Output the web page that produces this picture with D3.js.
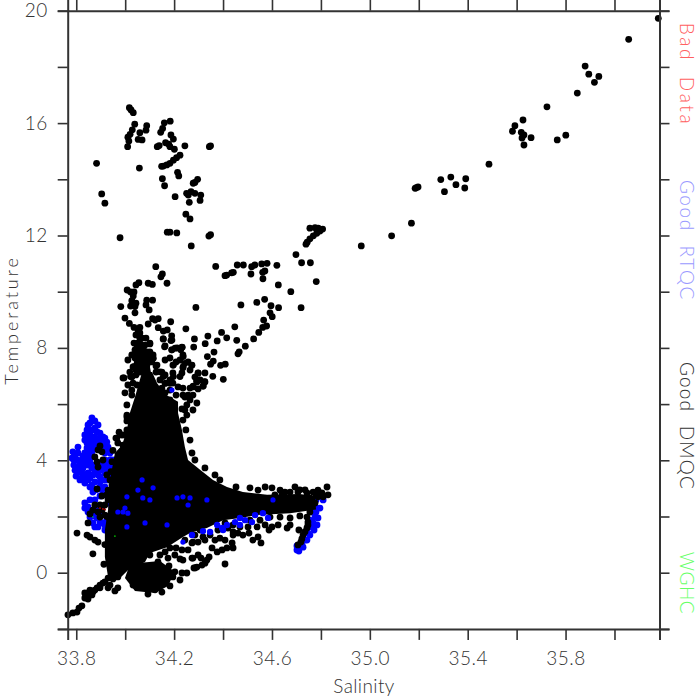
<!DOCTYPE html>
<html><head><meta charset="utf-8">
<script src="https://cdn.jsdelivr.net/npm/d3@7"></script>
<style>html,body{margin:0;background:#fff}svg{display:block}text{font-family:"Lato","Open Sans",sans-serif;font-weight:300}</style>
</head><body><svg id="c" width="700" height="700"></svg>
<script>
const xTicks=[33.8,34.0,34.2,34.4,34.6,34.8,35.0,35.2,35.4,35.6,35.8,36.0];
const xLabels=[33.8,34.2,34.6,35.0,35.4,35.8];
const yTicks=[-2,0,2,4,6,8,10,12,14,16,18,20];
const yLabels=[0,4,8,12,16,20];
const legendNames=["Bad Data","Good RTQC","Good DMQC","WGHC"];
const legendColors=["#ff6060","#9a9aff","#333333","#66ff66"];
const badData=[[33.897,2.30],[33.909,2.27],[33.918,2.25]];
const wghc=[[33.868,1.98],[33.958,1.30]];
// solid regions where Good DMQC points overlap completely (outlines)
const denseCore=[[34.069,7.14],[34.110,7.14],[34.130,6.75],[34.163,6.35],[34.216,6.08],[34.216,5.68],[34.232,5.08],[34.244,4.47],[34.257,4.01],[34.306,3.66],[34.359,3.30],[34.416,3.05],[34.481,2.87],[34.580,2.77],[34.714,2.80],[34.776,2.72],[34.780,2.25],[34.674,2.12],[34.539,2.05],[34.469,1.95],[34.400,1.87],[34.334,1.59],[34.265,1.41],[34.236,1.27],[34.171,0.91],[34.101,0.70],[34.081,0.38],[34.011,0.09],[33.979,-0.19],[33.930,-0.15],[33.917,0.56],[33.917,1.52],[33.930,2.23],[33.938,3.30],[33.958,4.26],[33.987,4.54],[34.007,5.08],[34.019,5.68],[34.040,6.25]];
const denseNeck=[[34.060,8.35],[34.085,8.10],[34.105,7.14],[34.030,7.14],[34.040,7.75]];
const denseLobe=[[34.020,0.32],[34.142,0.42],[34.203,0.03],[34.175,-0.47],[34.122,-0.72],[34.040,-0.65],[33.999,-0.19]];
const goodRtqcBack=[[33.864,5.51],[33.848,5.26],[33.844,5.08],[33.889,5.26],[33.897,4.97],[33.848,4.83],[33.864,5.08],[33.876,4.83],[33.909,4.83],[33.925,4.65],[33.930,4.47],[33.938,4.26],[33.946,4.01],[33.844,4.62],[33.864,4.62],[33.885,4.62],[33.844,4.44],[33.868,4.37],[33.848,4.26],[33.864,4.12],[33.786,4.30],[33.807,4.47],[33.807,4.26],[33.803,4.01],[33.823,4.01],[33.790,3.83],[33.807,3.72],[33.799,3.44],[33.823,3.55],[33.835,3.83],[33.848,3.83],[33.864,3.72],[33.835,3.41],[33.848,3.30],[33.856,3.05],[33.868,2.87],[33.876,3.23],[33.815,3.30],[33.827,3.72],[33.848,3.55],[33.868,3.48],[33.885,3.72],[33.905,3.83],[33.925,3.83],[33.946,3.76],[33.909,3.30],[33.897,3.05],[33.917,3.05],[33.930,3.30],[33.835,2.48],[33.848,2.34],[33.930,2.48],[33.946,2.30],[33.856,2.59],[33.876,2.59],[33.868,1.77],[33.889,1.63],[33.917,1.52],[33.885,1.95],[33.856,1.98],[33.897,4.62],[33.897,4.37],[33.905,4.62],[33.917,4.26],[33.917,4.47],[33.897,3.65],[33.917,3.55],[33.889,3.48],[33.917,4.01],[33.880,2.95],[33.897,2.73],[33.897,2.16],[33.925,1.87],[33.946,1.70],[33.909,1.77],
[33.876,5.40],[33.856,5.33],[33.876,5.15],[33.835,4.90],[33.856,4.97],[33.885,5.01],[33.864,4.83],[33.897,4.79],[33.835,4.72],[33.856,4.72],[33.876,4.72],[33.917,4.79],[33.856,4.47],[33.880,4.47],[33.835,4.26],[33.864,4.30],[33.917,4.62],[33.930,4.30],[33.938,4.01],[33.848,4.08],[33.827,4.15],[33.815,3.87],[33.835,4.01],[33.856,3.94],[33.876,3.83],[33.795,4.19],[33.782,4.08],[33.790,4.01],[33.807,3.58],[33.795,3.65],[33.823,3.37],[33.835,3.19],[33.856,3.37],[33.876,3.58],[33.897,3.41],[33.917,3.65],[33.864,3.12],[33.876,2.95],[33.897,3.23],[33.921,3.30],[33.938,3.65],[33.946,3.51],[33.905,2.95],[33.917,2.77],[33.938,2.59],[33.835,2.30],[33.856,2.23],[33.880,2.23],[33.848,2.16],[33.868,2.02],[33.897,1.80],[33.876,1.63],[33.917,1.70],[33.958,4.01],
[34.809,2.59],[34.796,2.30],[34.776,2.34],[34.764,2.16],[34.768,1.77],[34.764,1.63],[34.747,1.41],[34.735,1.16],[34.722,0.99],[34.702,0.81],[34.776,1.98],[34.755,1.87],[34.780,2.16],[34.788,1.95],[34.784,1.70],[34.772,1.52],[34.755,1.34],[34.743,1.16],[34.727,0.91],[34.710,0.77],[34.702,0.95],[34.764,2.41],[34.780,2.59]];
const goodRtqcArm=[[34.318,1.48],[34.347,1.45],[34.376,1.70],[34.396,1.59],[34.416,1.70],[34.449,1.80],[34.469,1.95],[34.490,1.87],[34.518,1.80],[34.531,2.05],[34.563,2.12],[34.584,1.95],[34.469,1.70],[34.273,1.34],[34.400,1.52]];
const goodRtqcFront=[[34.334,2.59],[34.604,2.59],[34.265,2.66],[33.991,2.16],[33.970,2.16],[33.999,2.30],[34.011,2.12],[34.007,1.63],[34.052,2.94],[34.072,2.66],[34.101,2.59],[34.114,3.02],[34.171,1.70],[34.212,2.66],[34.236,2.70],[34.191,6.50],[34.007,2.70],[34.257,2.41],[34.069,3.30],[34.236,1.09],[34.081,1.77]];
const warmBranch=[[36.179,19.73],[36.058,18.98],[35.880,18.03],[35.895,17.74],[35.936,17.66],[35.918,17.45],[35.848,17.07],[35.724,16.58],[35.626,16.11],[35.593,15.91],[35.583,15.71],[35.619,15.67],[35.630,15.58],[35.622,15.47],[35.659,15.48],[35.630,15.22],[35.766,15.40],[35.801,15.57],[35.487,14.54],[35.290,13.99],[35.331,14.08],[35.392,14.02],[35.352,13.81],[35.388,13.69],[35.305,13.56],[35.185,13.68],[35.190,13.70],[35.197,13.73],[35.170,12.44],[35.089,11.99],[34.965,11.63]];
const upperCluster=[[34.017,16.55],[34.024,16.47],[34.033,16.37],[34.039,15.96],[34.029,15.76],[34.020,15.60],[34.011,15.50],[34.015,15.36],[34.010,15.16],[34.088,15.91],[34.085,15.75],[34.060,15.66],[34.053,15.42],[34.069,15.40],[34.160,16.01],[34.184,16.07],[34.153,15.81],[34.145,15.67],[34.187,15.58],[34.197,15.43],[34.165,15.30],[34.183,15.16],[34.178,15.25],[34.131,15.16],[34.139,15.20],[34.244,15.19],[34.201,15.07],[34.344,15.16],[34.349,15.19],[34.224,14.86],[34.210,14.77],[34.197,14.68],[34.183,14.57],[34.170,14.51],[34.156,14.47],[34.149,14.46],[34.058,14.40],[34.214,14.25],[34.219,14.12],[34.152,14.02],[34.161,13.77],[34.296,14.00],[34.285,13.89],[34.278,13.86],[34.204,13.38],[34.251,13.50],[34.269,13.56],[34.258,13.44],[34.285,13.50],[34.309,13.44],[34.306,13.25],[34.262,13.18],[34.248,12.76],[34.265,12.59],[34.172,12.12],[34.183,12.12],[34.211,12.09],[34.342,11.98],[34.349,12.03],[33.979,11.92],[33.883,14.57],[33.904,13.48],[33.917,13.15],[34.270,11.63]];
const midBranch=[[34.755,12.26],[34.776,12.28],[34.789,12.26],[34.807,12.23],[34.796,12.16],[34.783,12.08],[34.769,11.99],[34.755,11.88],[34.744,11.76],[34.739,11.69],[34.698,11.32],[34.721,11.03],[34.757,11.03],[34.781,10.36],[34.677,10.00],[34.626,10.24],[34.719,9.43],[34.620,10.94],[34.580,11.01],[34.558,10.99],[34.571,10.74],[34.562,10.69],[34.563,10.46],[34.530,10.95],[34.517,10.89],[34.514,10.63],[34.483,10.95],[34.458,10.95],[34.442,10.69],[34.435,10.67],[34.415,10.59],[34.408,10.57],[34.370,10.90],[34.473,9.53],[34.538,9.62],[34.570,9.73],[34.596,9.50],[34.627,9.43],[34.592,9.25],[34.601,9.11],[34.566,8.99],[34.578,8.78],[34.562,8.73],[34.546,8.55],[34.525,8.32],[34.491,8.06],[34.466,7.86],[34.461,7.79],[34.448,8.75],[34.456,8.27],[34.394,8.55],[34.415,8.36],[34.338,8.42],[34.327,8.15],[34.376,8.25],[34.363,7.85],[34.336,7.69],[34.360,7.53],[34.349,7.42],[34.390,7.38],[34.409,7.42],[34.358,6.99],[34.401,6.88],[34.325,6.80]];
const columnTop=[[34.125,10.89],[34.152,10.63],[34.146,10.53],[34.094,10.30],[34.111,10.26],[34.171,10.30],[34.056,10.32],[34.044,10.24],[34.008,10.06],[34.022,9.99],[34.036,9.99],[34.033,9.85],[34.027,9.68],[34.044,9.59],[34.022,9.49],[34.040,9.47],[33.982,9.47],[34.040,9.25],[34.088,9.70],[34.112,9.70],[34.085,9.53],[34.098,9.35],[34.289,9.44],[33.999,9.06],[34.017,8.87],[34.036,8.73],[34.053,8.61],[34.060,8.73],[34.112,9.04],[34.135,9.04],[34.122,8.99],[34.094,8.85],[34.186,8.93],[34.135,8.72],[34.156,8.60],[34.172,8.64],[34.248,8.68],[34.190,8.43],[34.187,8.26],[34.156,8.32],[34.283,8.32],[34.280,8.03],[34.161,8.04],[34.060,8.34],[34.053,8.16],[34.049,8.02],[34.101,8.14],[34.204,7.99],[34.190,7.93],[34.227,7.93],[34.233,8.02],[34.074,7.86],[34.101,7.69],[34.115,7.63],[34.033,7.75],[34.044,7.63],[34.036,7.33],[34.053,7.47],[34.237,7.69],[34.197,7.39],[34.272,7.38],[34.244,7.45],[34.298,7.10],[34.126,7.36],[34.142,7.15],[34.156,6.98],[33.995,6.93],[34.022,6.98],[34.319,6.64],[34.292,6.83],[34.278,6.64],[34.237,7.33],[34.224,6.98],[34.197,6.98],[34.183,6.74],[34.163,6.74]];
const columnBase=[[34.032,7.32],[34.081,7.57],[34.109,7.50],[34.130,7.39],[34.089,7.39],[34.060,7.14],[34.027,6.96],[33.991,6.93],[34.032,6.75],[34.150,7.14],[34.163,7.04],[34.183,6.86],[34.195,7.11],[34.232,7.11],[34.236,7.29],[34.265,7.21],[34.273,7.39],[34.298,7.11],[34.293,6.79],[34.326,6.79],[34.318,6.64],[34.277,6.61],[34.298,6.54],[34.265,6.57],[34.277,6.32],[34.293,6.04],[34.277,5.79],[34.252,5.61],[34.244,6.25],[34.252,5.97],[34.232,5.83],[34.150,6.57],[34.163,6.40],[34.195,6.75],[34.216,6.61],[34.236,6.57],[34.183,6.15],[34.027,6.32],[34.007,5.97],[34.007,5.61],[34.007,5.40],[33.966,4.79],[33.999,4.90],[33.991,4.54],[34.072,7.93],[34.101,8.17],[34.101,7.86],[34.114,7.75],[34.040,7.93],[34.027,7.75],[34.040,7.64],[34.052,8.17],[34.069,8.35],[34.163,8.07],[34.191,7.93],[34.212,8.00],[34.232,8.03],[34.236,7.75],[34.224,7.57],[34.195,7.39],[34.155,8.32],[34.191,8.28],
[34.044,8.46],[34.036,8.17],[34.060,8.53],[34.085,8.35],[34.081,8.10],[34.060,8.00],[34.044,7.75],[34.089,7.86],[34.069,7.57],[34.048,7.39],[34.101,7.57],[34.011,7.57],[34.019,7.14],[34.044,7.04],[34.011,6.68],[33.999,6.40],[34.048,6.68],[34.027,6.50],[34.126,7.14],[34.142,6.86],[34.167,6.75],[34.142,6.43],[34.183,6.50],[34.208,6.32],[34.236,6.32],[34.257,6.32],[34.265,6.15],[34.244,5.79],[34.236,5.43],[34.248,5.08],[34.265,4.72],[34.273,4.26],[34.285,4.01],[34.326,3.73],[34.367,3.48],[34.387,3.30],[34.163,7.57],[34.183,7.64],[34.208,7.50],[34.257,7.50],[34.285,6.96],[34.326,7.11],[34.306,6.86]];
const leftOverBlue=[[33.897,4.51],[33.889,4.37],[33.905,4.30],[33.876,4.12],[33.885,3.94],[33.909,4.01],[33.889,3.76],[33.885,2.98],[33.905,2.73],[33.876,2.41],[33.856,2.09],[33.848,1.77],[33.962,4.79],[33.970,4.62],[33.987,4.90],[34.007,5.08],[34.007,5.54],[34.011,5.43],[33.999,4.54],[33.925,3.48],[33.938,3.30],[33.930,2.94],[33.946,3.12],[33.905,2.23],[33.917,2.05],[33.868,2.23],[33.925,2.77],[33.897,2.41],[33.889,2.16],[33.917,2.41],[33.897,1.98],[33.938,1.52],[33.938,1.87],[33.950,4.35],[33.946,3.95],[33.942,3.60],[33.930,2.60],[33.925,2.00],[33.917,1.00],[33.913,0.30],[33.975,5.00]];
const lowerTail=[[33.766,-1.50],[33.786,-1.43],[33.803,-1.40],[33.811,-1.26],[33.823,-1.18],[33.835,-0.72],[33.844,-0.86],[33.856,-0.79],[33.868,-0.69],[33.885,-0.54],[33.897,-0.44],[33.909,-0.37],[33.864,-0.79],[33.848,-0.72],[33.938,-0.44],[33.930,-0.54],[33.958,-0.65],[33.970,-0.54],[33.930,-0.19],[33.950,-0.22],[33.970,-0.15],[33.803,1.41],[33.844,1.34],[33.856,1.27],[33.876,1.16],[33.889,1.09],[33.868,0.67],[33.876,-0.62],[33.856,-0.62],[33.897,-0.54],[33.835,-0.90],[33.848,-0.94],[33.917,-0.33]];
const bottomLobe=[[34.032,-0.44],[34.060,-0.44],[34.089,-0.54],[34.093,-0.76],[34.122,-0.61],[34.150,-0.69],[34.183,-0.47],[34.163,-0.26],[34.150,-0.37],[34.203,0.03],[34.195,-0.15],[34.224,-0.26],[34.232,-0.01],[34.252,-0.01],[34.130,0.03],[34.122,0.17],[34.093,0.10],[34.052,-0.19],[34.040,-0.01],[34.081,-0.15],[34.060,-0.33],[34.109,-0.37],[34.122,-0.19],[34.101,-0.26],[34.175,0.52],[34.179,0.24],[34.224,0.49],[34.273,0.52],[34.232,0.81],[34.273,1.06],[34.281,0.17],[34.134,0.38],[34.163,0.74],[34.277,1.09],[34.298,1.09],[34.318,1.27],[34.277,0.52],[34.298,0.63],[34.310,0.52],[34.293,0.20],[34.314,0.27],[34.326,0.34],[34.334,0.45],[34.343,0.56],[34.285,0.17],[34.408,0.31],[34.101,0.63],[34.142,0.63],[34.183,0.88],[34.208,0.88],[34.257,0.81],[34.244,1.16],[34.285,1.34],[34.306,1.52],[34.203,0.63],[34.236,0.45]];
const armLower=[[34.355,0.88],[34.376,0.74],[34.396,0.81],[34.416,0.88],[34.441,0.88],[34.437,1.06],[34.408,1.16],[34.441,1.34],[34.441,1.45],[34.420,1.59],[34.408,1.77],[34.461,1.41],[34.481,1.34],[34.506,1.41],[34.502,1.63],[34.522,1.16],[34.543,1.27],[34.555,1.06],[34.539,1.63],[34.588,1.52],[34.600,1.63],[34.625,1.70],[34.662,1.59],[34.674,1.70],[34.441,1.70],[34.469,1.63],[34.510,1.87],[34.551,1.87],[34.592,1.98],[34.633,1.98],[34.674,1.95],[34.714,2.02],[34.572,1.70],[34.347,1.34],[34.379,1.52],[34.326,1.16],[34.367,1.16],[34.387,1.23]];
const armUpper=[[34.453,3.05],[34.572,3.05],[34.600,3.02],[34.694,3.05],[34.674,2.87],[34.706,2.87],[34.743,2.84],[34.768,2.87],[34.804,2.84],[34.825,3.05],[34.829,2.77],[34.788,2.70],[34.755,2.66],[34.641,2.84],[34.612,2.77],[34.510,3.02],[34.543,2.94],[34.633,2.94],[34.735,2.95],[34.788,2.94],[34.714,2.95],[34.653,2.87],[34.780,2.77],[34.809,2.70],[34.776,2.48],[34.755,2.41]];
const hook=[[34.743,1.98],[34.747,1.80],[34.743,1.59],[34.727,1.34],[34.718,1.09],[34.706,0.99],[34.710,1.52],[34.755,2.16],[34.747,1.70],[34.735,1.46],[34.722,1.20]];
const goodDmqcGroups=[warmBranch,upperCluster,midBranch,columnTop,columnBase,leftOverBlue,lowerTail,bottomLobe,armLower,armUpper,hook];

const svg=d3.select("#c");
const x=d3.scaleLinear().domain([33.765,36.184]).range([67.7,659.5]);
const y=d3.scaleLinear().domain([-2,20]).range([628.9,10.7]);
const axisColor="#333";

function dots(data,color,r){
  svg.append("g").attr("fill",color).selectAll("circle").data(data).join("circle")
    .attr("cx",d=>x(d[0])).attr("cy",d=>y(d[1])).attr("r",r);
}
const plot=d3.line().x(d=>x(d[0])).y(d=>y(d[1]));

dots(goodRtqcBack,"#0000ff",3.4);
[denseCore,denseNeck,denseLobe].forEach(p=>svg.append("path").attr("d",plot(p)+"Z").attr("fill","#000"));
goodDmqcGroups.forEach(g=>dots(g,"#000",3.4));
dots(goodRtqcArm,"#0000ff",3.2);
dots(goodRtqcFront,"#0000ff",2.6);
dots(badData,"#c00000",0.9);
dots(wghc,"#00d000",0.8);

const xb=d3.axisBottom(x).tickValues(xTicks).tickSize(11).tickFormat(d=>xLabels.includes(d)?d.toFixed(1):"").tickPadding(12);
const xt=d3.axisTop(x).tickValues(xTicks).tickSize(11).tickFormat("");
const yl=d3.axisLeft(y).tickValues(yTicks).tickSize(10).tickFormat(d=>yLabels.includes(d)?d:"").tickPadding(10);
const yr=d3.axisRight(y).tickValues(yTicks).tickSize(10).tickFormat("");
[[xb,`translate(0,${y(-2)})`],[xt,`translate(0,${y(20)})`],[yl,`translate(${x(33.765)},0)`],[yr,`translate(${x(36.184)},0)`]].forEach(([a,t])=>{
  const g=svg.append("g").attr("transform",t).call(a);
  g.selectAll("line,path").attr("stroke",axisColor).attr("stroke-width",1.6);
  g.select(".domain").attr("stroke-width",2);
  g.selectAll("text").attr("fill","#333").style("font-size","19px").style("letter-spacing","0.5px").style("font-family",'Lato,"Open Sans",sans-serif').style("font-weight",300);
});
svg.selectAll("g.tick text").filter(function(){return this.getAttribute("x")==="-10";}).attr("y",1.5);
svg.append("text").attr("x",364).attr("y",693).attr("text-anchor","middle").attr("fill","#333").attr("font-size",19).attr("letter-spacing",0.4).text("Salinity");
svg.append("text").attr("transform","translate(18,320) rotate(-90)").attr("text-anchor","middle").attr("fill","#333").attr("font-size",18).attr("letter-spacing",2.9).text("Temperature");
const legendY=[74.5,240.5,426,583];
const legendSpacing=[2.6,1.6,1.2,0.5];
legendNames.forEach((n,i)=>{
  svg.append("text").attr("transform",`translate(680,${legendY[i]}) rotate(90)`).attr("text-anchor","middle")
    .attr("fill",legendColors[i]).attr("font-size",19).attr("word-spacing",7).attr("letter-spacing",legendSpacing[i]).text(n);
});
</script></body></html>
